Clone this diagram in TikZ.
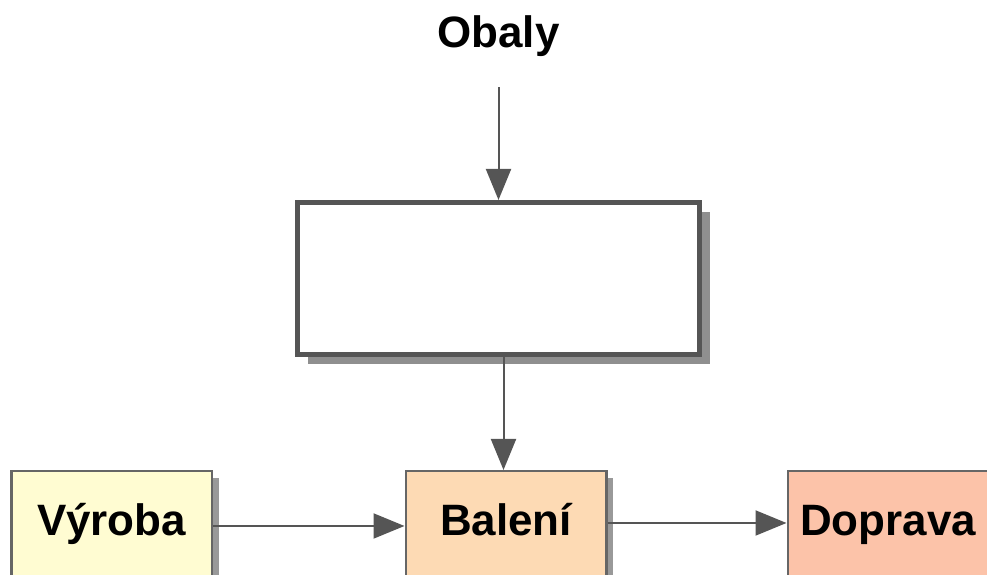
\documentclass[tikz,border=0pt]{standalone}
\usepackage{fontspec}
\setmainfont{Liberation Sans}
\usetikzlibrary{arrows.meta,shadows}
\definecolor{edgegray}{HTML}{555555}
\definecolor{vyrobafill}{HTML}{FFFCD2}
\definecolor{balenifill}{HTML}{FDDAB4}
\definecolor{dopravafill}{HTML}{FCC3A9}
\begin{document}
\begin{tikzpicture}
    \tikzset{label/.style = {font=\fontsize{25}{30}\selectfont\bfseries, anchor=base}}
    \tikzset{bigbox/.style = {draw=edgegray, line width=0.1cm, fill=white, minimum width=8.04cm, minimum height=3.04cm,
        drop shadow={shadow xshift=0.2cm, shadow yshift=-0.2cm, fill=black!44, opacity=1}}}
    \tikzset{step box/.style = {label, draw=edgegray!90, line width=0.05cm, minimum width=4.01cm, inner sep=0pt,
        text height=1.295cm, text depth=1.5cm,
        drop shadow={shadow xshift=0.14cm, shadow yshift=-0.14cm, fill=black!40, opacity=1}}}
    \tikzset{edge/.style = {-{Triangle[length=0.62cm,width=0.5cm]}, draw=edgegray, fill=edgegray, line width=0.04cm}}
    \useasboundingbox (0,0) rectangle (19.74,11.5);
    \node[label] (obaly) at (9.97,10.54) {Obaly};
    \node[bigbox] (box) at (9.97,5.93) {};
    \node[step box, fill=vyrobafill] (vyroba) at (2.23,0.78) {Výroba};
    \node[step box, fill=balenifill] (baleni) at (10.12,0.78) {Balení};
    \node[step box, fill=dopravafill] (doprava) at (17.76,0.78) {Doprava};
    \draw[edge, shorten <=0.48cm] (obaly) to (box.north);
    \draw[edge] ([xshift=0.1cm]box.south) to ([xshift=0.1cm]box.south |- baleni.north);
    \draw[edge] ([yshift=0.2cm]vyroba.base east) to ([yshift=0.2cm]baleni.base west);
    \draw[edge] ([yshift=0.26cm]baleni.base east) to ([yshift=0.26cm]doprava.base west);
\end{tikzpicture}
\end{document}
